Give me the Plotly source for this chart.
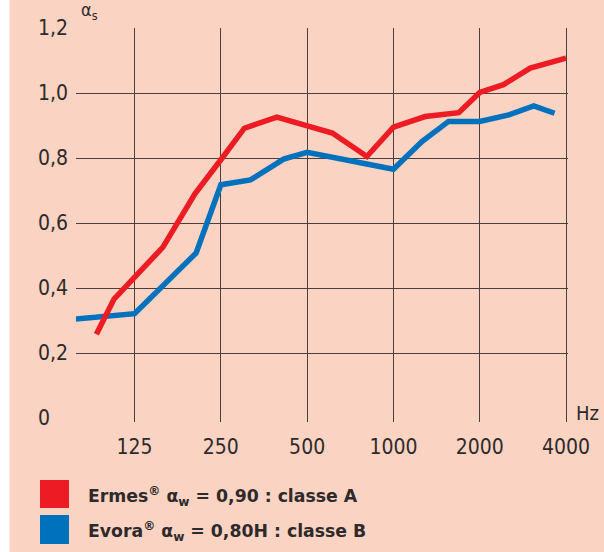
import plotly.graph_objects as go
import math

# ---- data ----
ermes_freq = [92, 106, 157, 203, 250, 302, 392, 500, 612, 808, 1000, 1290, 1690, 2000, 2420, 3000, 4000]
ermes_alpha = [0.258, 0.366, 0.526, 0.69, 0.795, 0.892, 0.926, 0.897, 0.877, 0.805, 0.895, 0.928, 0.940, 1.002, 1.026, 1.077, 1.108]

evora_freq = [78, 125, 205, 250, 317, 414, 500, 1000, 1257, 1557, 2000, 2525, 3087, 3647]
evora_alpha = [0.305, 0.321, 0.508, 0.718, 0.733, 0.797, 0.818, 0.766, 0.851, 0.913, 0.913, 0.933, 0.961, 0.938]

x_tickvals = [125, 250, 500, 1000, 2000, 4000]
x_ticktext = ["125", "250", "500", "1000", "2000", "4000"]
y_tickvals = [0, 0.2, 0.4, 0.6, 0.8, 1.0, 1.2]
y_ticktext = ["0", "0,2", "0,4", "0,6", "0,8", "1,0", "1,2"]

legend_labels = [
    "Ermes<sup>®</sup> α<sub>w</sub> = 0,90 : classe A",
    "Evora<sup>®</sup> α<sub>w</sub> = 0,80H : classe B",
]

RED = "#ED1C24"
BLUE = "#0071BC"
BG = "#FBD3C2"
GRID = "#4a3f3c"
TXT = "#2e2a2a"
TICKFONT = "Liberation Sans Narrow, DejaVu Sans Condensed, sans-serif"

W, H = 604, 552
L, R, T, B = 76, 36, 28, 130
PW, PH = W - L - R, H - T - B


def px_x(px):
    return (px - L) / PW


def px_y(py):
    return (H - B - py) / PH


fig = go.Figure()
fig.add_trace(go.Scatter(x=evora_freq, y=evora_alpha, mode="lines",
                         line=dict(color=BLUE, width=5.5), showlegend=False))
fig.add_trace(go.Scatter(x=ermes_freq, y=ermes_alpha, mode="lines",
                         line=dict(color=RED, width=5.5), showlegend=False))

x_lo = math.log10(78.1)
x_hi = math.log10(4064)

fig.update_xaxes(type="log", range=[x_lo, x_hi], tickvals=x_tickvals, ticktext=x_ticktext,
                 showgrid=True, gridcolor=GRID, gridwidth=1.3, zeroline=False, showline=False,
                 ticks="outside", ticklen=6, tickcolor="rgba(0,0,0,0)",
                 tickfont=dict(family=TICKFONT, size=21, color=TXT))
fig.update_yaxes(range=[-0.0123, 1.2005], tickvals=y_tickvals[1:], showticklabels=False,
                 showgrid=True, gridcolor=GRID, gridwidth=1.3, zeroline=False, showline=False)

annotations = []
for v, t in zip(y_tickvals, y_ticktext):
    annotations.append(dict(x=px_x(36), xref="paper", y=v, yref="y", text=t, showarrow=False,
                            xanchor="left", yanchor="middle",
                            font=dict(family=TICKFONT, size=21, color=TXT)))
annotations.append(dict(x=px_x(574), xref="paper", y=px_y(413), yref="paper", text="Hz",
                        showarrow=False, xanchor="left", yanchor="middle",
                        font=dict(family=TICKFONT, size=20, color=TXT)))
annotations.append(dict(x=px_x(79), xref="paper", y=px_y(11), yref="paper", text="α<sub>s</sub>",
                        showarrow=False, xanchor="left", yanchor="middle",
                        font=dict(family=TICKFONT, size=18, color=TXT)))

legend_rows = [(RED, 480, 508), (BLUE, 515, 544)]
shapes = [
    dict(type="rect", xref="paper", yref="paper", x0=px_x(-2), x1=px_x(9.5), y0=px_y(-2), y1=px_y(556),
         fillcolor="white", line=dict(width=0), layer="below"),
]
for (col, y0, y1), lab in zip(legend_rows, legend_labels):
    shapes.append(dict(type="rect", xref="paper", yref="paper", x0=px_x(40), x1=px_x(69),
                       y0=px_y(y1), y1=px_y(y0), fillcolor=col, line=dict(width=0)))
    annotations.append(dict(x=px_x(86), xref="paper", y=px_y((y0 + y1) / 2 + 2), yref="paper",
                            text="<b>" + lab + "</b>", showarrow=False, xanchor="left", yanchor="middle",
                            font=dict(family="DejaVu Sans, sans-serif", size=17.3, color=TXT)))

fig.update_layout(width=W, height=H, margin=dict(l=L, r=R, t=T, b=B),
                  paper_bgcolor=BG, plot_bgcolor=BG, showlegend=False,
                  annotations=annotations, shapes=shapes)

fig.write_html("out.html", config={"displayModeBar": False},
               post_script="document.body.style.margin='0';document.body.style.padding='0';")
